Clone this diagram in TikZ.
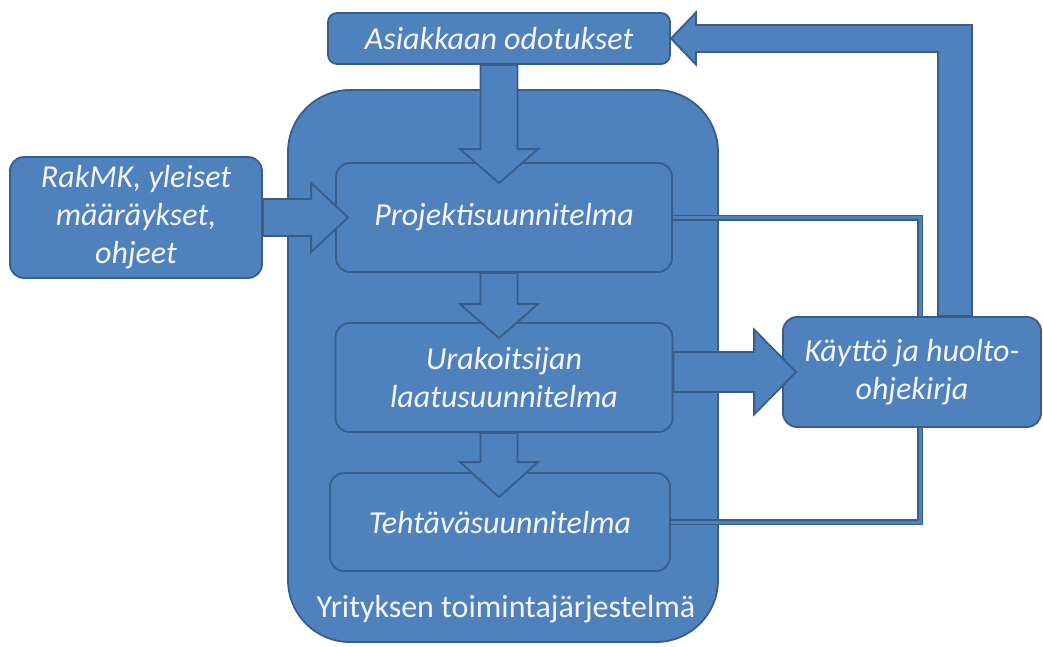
\documentclass[tikz,border=0pt]{standalone}
\usepackage{fontspec}
\setmainfont{Carlito}
\usetikzlibrary{calc}
\definecolor{boxfill}{HTML}{4F81BD}
\definecolor{boxline}{HTML}{385D8A}
\definecolor{txt}{HTML}{F4F5FA}
\newcommand\vblk[3]{\draw[blk] let \p1=(#1),\p2=(#2) in
 (\x2-18.5pt,\y1) -- (\x2+18.5pt,\y1) -- (\x2+18.5pt,\y2+#3) -- (\x2+39pt,\y2+#3) -- (\x2,\y2) -- (\x2-39pt,\y2+#3) -- (\x2-18.5pt,\y2+#3) -- cycle;}
% #1 start, #2 tip, #3 head length, #4 shaft half, #5 head half
\newcommand\hblk[5]{\draw[blk] let \p1=(#1),\p2=(#2) in
 (\x1,\y2-#4) -- (\x2-#3,\y2-#4) -- (\x2-#3,\y2-#5) -- (\x2,\y2) -- (\x2-#3,\y2+#5) -- (\x2-#3,\y2+#4) -- (\x1,\y2+#4) -- cycle;}
\begin{document}
\begin{tikzpicture}[x=1pt,y=-1pt,
  box/.style={draw=boxline, fill=boxfill, line width=1.8pt, rounded corners=14pt, text=txt,
    font=\fontsize{32}{38}\selectfont\itshape, align=center, inner sep=0pt},
  blk/.style={draw=boxline, fill=boxfill, line width=1.8pt, line join=miter},
  thinline/.style={draw=boxline, line width=1.5pt, double=boxfill, double distance=3pt}]
\useasboundingbox (0,0) rectangle (1043,646);
% container
\node[box, rounded corners=62pt, minimum width=430pt, minimum height=552pt] (sys) at (503,366) {};
\node[text=txt, font=\fontsize{32}{38}\selectfont, anchor=base] (systxt) at (506,617) {Yrityksen toimintajärjestelmä};
\coordinate (jx) at (920,0);
% boxes
\node[box, rounded corners=9pt, minimum width=342pt, minimum height=51pt] (asi) at (499,38.5) {Asiakkaan odotukset};
\node[box, minimum width=252pt, minimum height=121pt] (rak) at (136,217.5) {RakMK, yleiset\\määräykset,\\ohjeet};
\node[box, minimum width=336pt, minimum height=109pt] (proj) at (504,217.5) {Projektisuunnitelma};
\node[box, minimum width=337pt, minimum height=109pt] (ura) at (504,377.5) {Urakoitsijan\\laatusuunnitelma};
\node[box, minimum width=340pt, minimum height=98pt] (teh) at (500,522) {Tehtäväsuunnitelma};
% thin connectors
\draw[thinline] (proj.east) -| (jx |- 0,317);
\draw[thinline] (teh.east) -| (jx |- 0,427);
\node[box, minimum width=258pt, minimum height=110pt] (kay) at (912,372) {Käyttö ja huolto-\\ohjekirja};
% block arrows
\vblk{asi.south}{$(asi.south |- proj.north)+(0,21)$}{34pt}
\vblk{proj.south}{$(asi.south |- ura.north)+(0,16)$}{34pt}
\vblk{ura.south}{$(asi.south |- teh.north)+(0,25)$}{35pt}
\hblk{rak.east}{$(proj.west)+(13,0)$}{37pt}{18.5pt}{34.5pt}
\hblk{ura.east}{$(kay.west)+(14,0)$}{42pt}{20pt}{42.5pt}
\draw[blk] let \p1=(kay.north),\p2=(asi.east) in
  (\x1+26pt,\y1) -- (\x1+26pt,\y2-13.5pt) -- (\x2+25pt,\y2-13.5pt) -- (\x2+25pt,\y2-26pt) -- (\x2,\y2)
  -- (\x2+25pt,\y2+26pt) -- (\x2+25pt,\y2+13.5pt) -- (\x1+60pt,\y2+13.5pt) -- (\x1+60pt,\y1) -- cycle;
\end{tikzpicture}
\end{document}
